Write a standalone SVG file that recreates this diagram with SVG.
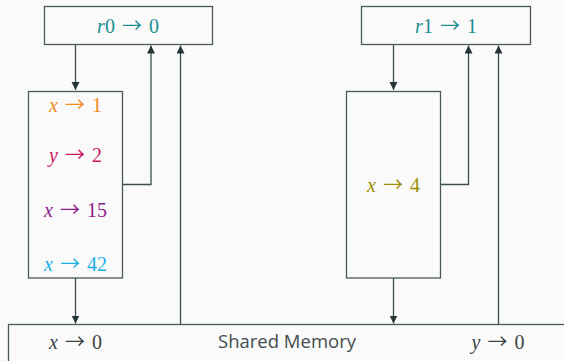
<svg xmlns="http://www.w3.org/2000/svg" width="564" height="361" viewBox="0 0 564 361">
<defs>
<marker id="ah" markerWidth="10" markerHeight="10" refX="8" refY="4" orient="auto" markerUnits="userSpaceOnUse">
<path d="M0,0 L8,4 L0,8 Z" fill="#253535"/>
</marker>
<style>
.box{fill:none;stroke:#4a5a5c;stroke-width:1.3}
.ln{fill:none;stroke:#3e4e50;stroke-width:1.3}
.m{font-family:"Liberation Serif","DejaVu Serif",serif;font-size:20px;text-anchor:middle;word-spacing:2px}
.v{font-style:italic}
.a{font-family:"Noto Sans CJK JP","DejaVu Sans",sans-serif;font-size:20px}
.s{font-family:"Open Sans","Noto Sans",sans-serif;font-size:18.5px;fill:#444c4e;text-anchor:middle}
</style>
</defs>
<rect width="564" height="361" fill="#fafafa"/>
<g id="connectors">
<path class="ln" d="M75.5,44.5 V90" marker-end="url(#ah)"/>
<path class="ln" d="M122.5,184.5 H151 V45.5" marker-end="url(#ah)"/>
<path class="ln" d="M180.5,324 V45.5" marker-end="url(#ah)"/>
<path class="ln" d="M75.5,278 V323.5" marker-end="url(#ah)"/>
<path class="ln" d="M393.5,44.5 V90" marker-end="url(#ah)"/>
<path class="ln" d="M440.5,184.5 H468.5 V45.5" marker-end="url(#ah)"/>
<path class="ln" d="M498.5,324 V45.5" marker-end="url(#ah)"/>
<path class="ln" d="M393.5,278 V323.5" marker-end="url(#ah)"/>
</g>
<g id="r0">
<rect class="box" x="44.5" y="6.5" width="168" height="38"/>
<text class="m" x="128" y="33" fill="#1c8f8f"><tspan class="v">r</tspan>0 <tspan class="a">→</tspan> 0</text>
</g>
<g id="r1">
<rect class="box" x="361.5" y="6.5" width="169" height="38"/>
<text class="m" x="446" y="33" fill="#1c8f8f"><tspan class="v">r</tspan>1 <tspan class="a">→</tspan> 1</text>
</g>
<g id="thread0">
<rect class="box" x="28.5" y="91.5" width="94" height="186.5"/>
<text class="m" x="75.5" y="112" fill="#f28a1c"><tspan class="v">x</tspan> <tspan class="a">→</tspan> 1</text>
<text class="m" x="75.5" y="162" fill="#c8185a"><tspan class="v">y</tspan> <tspan class="a">→</tspan> 2</text>
<text class="m" x="75.5" y="217" fill="#8e1b8e"><tspan class="v">x</tspan> <tspan class="a">→</tspan> 15</text>
<text class="m" x="75.5" y="271" fill="#1ab0e8"><tspan class="v">x</tspan> <tspan class="a">→</tspan> 42</text>
</g>
<g id="thread1">
<rect class="box" x="346.5" y="91.5" width="94" height="186.5"/>
<text class="m" x="393.5" y="192" fill="#9a8f00"><tspan class="v">x</tspan> <tspan class="a">→</tspan> 4</text>
</g>
<g id="memory">
<rect class="box" x="8.5" y="324.5" width="570" height="50"/>
<text class="m" x="75.5" y="349" fill="#3a4244"><tspan class="v">x</tspan> <tspan class="a">→</tspan> 0</text>
<text class="s" x="287" y="348">Shared Memory</text>
<text class="m" x="498" y="349" fill="#3a4244"><tspan class="v">y</tspan> <tspan class="a">→</tspan> 0</text>
</g>
</svg>
